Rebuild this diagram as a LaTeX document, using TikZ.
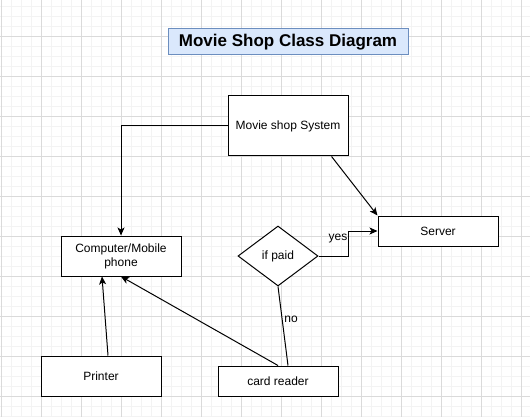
\documentclass[tikz,border=0pt]{standalone}
\usepackage{fontspec}
\setmainfont{Liberation Sans}
\usetikzlibrary{shapes.geometric,arrows.meta,calc}
\definecolor{titlefill}{HTML}{DAE8FC}
\definecolor{titleline}{HTML}{6C8EBF}
\definecolor{gridminor}{HTML}{F3F3F3}
\definecolor{gridmajor}{HTML}{DADADA}
\begin{document}
\begin{tikzpicture}[x=1pt,y=-1pt,
  box/.style={draw=black,line width=1pt,fill=white,minimum width=120pt,inner sep=0pt,align=center,font=\fontsize{12}{14}\selectfont},
  conn/.style={draw=black,line width=1pt},
  arr/.style={conn,-{Stealth[length=8pt,width=7pt,inset=2pt]}},
  lbl/.style={font=\fontsize{12}{14}\selectfont,inner sep=0pt}]
\fill[white] (0,0) rectangle (530,417);
\useasboundingbox (0,0) rectangle (530,417);
% grid
\foreach \x in {1,11,...,530} \draw[gridminor,line width=0.6pt] (\x,0) -- (\x,417);
\foreach \y in {6,16,...,417} \draw[gridminor,line width=0.6pt] (0,\y) -- (530,\y);
\foreach \x in {1,41,...,530} \draw[gridmajor,line width=0.8pt] (\x,0) -- (\x,417);
\foreach \y in {36,76,...,417} \draw[gridmajor,line width=0.8pt] (0,\y) -- (530,\y);
% title
\node[draw=titleline,fill=titlefill,line width=1pt,minimum width=240pt,minimum height=26pt,inner sep=0pt,
  font=\fontsize{17}{20}\selectfont\bfseries] (title) at (288,42) {Movie Shop Class Diagram};
% nodes
\node[box,minimum height=60pt] (ms) at (288,126) {Movie shop System};
\node[box,minimum height=30pt] (srv) at (438,231) {Server};
\node[box,minimum height=40pt] (comp) at (121,256) {Computer/Mobile\\phone};
\node[box,minimum height=40pt] (pr) at (101,376) {Printer};
\node[box,minimum height=30pt] (cr) at (278,381) {card reader};
\node[diamond,draw=black,line width=1pt,fill=white,minimum width=80pt,minimum height=60pt,aspect=1.333,inner sep=0pt,
  font=\fontsize{12}{14}\selectfont] (dec) at (278,256) {if paid};
% connectors
\draw[arr] (ms.west) -| (comp.north);
\draw[arr] (ms.-35) -- (srv.north west);
\draw[arr] (dec.east) -- ++(30,0) |- (srv.west);
\draw[conn] (dec.south) -- ($(cr.north)+(10,0)$);
\draw[arr] (cr.north) -- (comp.south);
\draw[arr] ($(pr.north)+(7,0)$) -- ($(comp.south)+(-19,0)$);
% labels
\node[lbl] (yes) at (338,239) {yes};
\node[lbl] (no) at (291,319) {no};
\end{tikzpicture}
\end{document}
